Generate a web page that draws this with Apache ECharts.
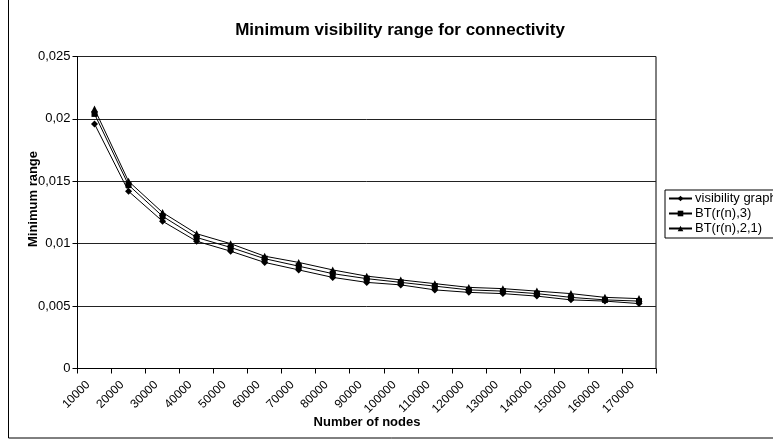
<!DOCTYPE html>
<html>
<head>
<meta charset="utf-8">
<script src="https://cdn.jsdelivr.net/npm/echarts@6/dist/echarts.min.js"></script>
<style>
  html, body { margin: 0; padding: 0; background: #fff; }
  #chart { width: 773px; height: 442px; }
</style>
</head>
<body>
<div id="chart"></div>
<script>
// Number of nodes (category axis)
const nodeCounts = ['10000', '20000', '30000', '40000', '50000', '60000', '70000', '80000', '90000',
  '100000', '110000', '120000', '130000', '140000', '150000', '160000', '170000'];

// Minimum range needed for connectivity, per model
const visibilityGraph = [0.0196, 0.0142, 0.0118, 0.0102, 0.0094, 0.0085, 0.0079, 0.0073, 0.0069,
  0.0067, 0.0063, 0.0061, 0.0060, 0.0058, 0.0055, 0.0054, 0.0052];
const bt3 = [0.0204, 0.0147, 0.0122, 0.0105, 0.0097, 0.0088, 0.0082, 0.0076, 0.0072,
  0.0069, 0.0066, 0.0063, 0.0062, 0.0060, 0.0057, 0.0055, 0.0054];
const bt21 = [0.0208, 0.0150, 0.0125, 0.0108, 0.0100, 0.0090, 0.0085, 0.0079, 0.0074,
  0.0071, 0.0068, 0.0065, 0.0064, 0.0062, 0.0060, 0.0057, 0.0056];

const seriesNames = ['visibility graph', 'BT(r(n),3)', 'BT(r(n),2,1)'];

const FONT = '"Liberation Sans", Arial, sans-serif';

const chart = echarts.init(document.getElementById('chart'), null, { renderer: 'canvas' });

function lineSeries(name, data, symbol, size) {
  return {
    name: name,
    type: 'line',
    data: data,
    symbol: symbol,
    symbolSize: size,
    showAllSymbol: true,
    animation: false,
    itemStyle: { color: '#000', borderWidth: 0 },
    lineStyle: { color: '#000', width: 1 },
    emphasis: { disabled: true }
  };
}

chart.setOption({
  animation: false,
  backgroundColor: '#fff',
  textStyle: { fontFamily: FONT, color: '#000' },
  grid: {
    left: 77.5, right: 117, top: 56.5, bottom: 73.5,
    show: true, borderColor: '#000', borderWidth: 1, backgroundColor: 'transparent'
  },
  legend: {
    orient: 'vertical',
    left: 665, top: 190,
    padding: [2, 6, 3, 3],
    itemGap: 2,
    itemWidth: 23, itemHeight: 7,
    backgroundColor: '#fff',
    borderColor: '#000', borderWidth: 1, borderRadius: 0,
    textStyle: { fontFamily: FONT, fontSize: 13, lineHeight: 13, color: '#000', padding: [0, 0, 0, -2] },
    data: seriesNames
  },
  xAxis: {
    type: 'category',
    data: nodeCounts,
    boundaryGap: true,
    axisLine: { show: true, lineStyle: { color: '#000', width: 1 } },
    axisTick: { show: true, inside: false, length: 5, alignWithLabel: false, lineStyle: { color: '#000' } },
    axisLabel: {
      rotate: 45, margin: 8, interval: 0, fontSize: 12, fontFamily: FONT, color: '#000',
      padding: [0, 9, 0, 0]
    },
    splitLine: { show: false }
  },
  yAxis: {
    type: 'value',
    min: 0, max: 0.025, interval: 0.005,
    axisLine: { show: true, lineStyle: { color: '#000', width: 1 } },
    axisTick: { show: true, inside: false, length: 5, lineStyle: { color: '#000' } },
    axisLabel: {
      margin: 7, fontSize: 13, fontFamily: FONT, color: '#000',
      formatter: function (v) {
        return String(parseFloat(v.toFixed(4))).replace('.', ',');
      }
    },
    splitLine: { show: true, lineStyle: { color: '#222', width: 1 } }
  },
  series: [
    lineSeries(seriesNames[0], visibilityGraph, 'diamond', 7),
    lineSeries(seriesNames[1], bt3, 'rect', 6),
    lineSeries(seriesNames[2], bt21, 'triangle', 7)
  ],
  graphic: [
    {
      type: 'rect', silent: true, z: 100,
      shape: { x: 8.5, y: -5, width: 800, height: 443 },
      style: { fill: null, stroke: '#000', lineWidth: 1 }
    },
    {
      type: 'text', x: 400, y: 30, silent: true,
      style: {
        text: 'Minimum visibility range for connectivity',
        font: 'bold 17px ' + FONT, fill: '#000', align: 'center', verticalAlign: 'middle'
      }
    },
    {
      type: 'text', x: 367, y: 422, silent: true,
      style: {
        text: 'Number of nodes',
        font: 'bold 13px ' + FONT, fill: '#000', align: 'center', verticalAlign: 'middle'
      }
    },
    {
      type: 'text', x: 33, y: 199, rotation: Math.PI / 2, silent: true,
      style: {
        text: 'Minimum range',
        font: 'bold 13px ' + FONT, fill: '#000', align: 'center', verticalAlign: 'middle'
      }
    }
  ]
});
</script>
</body>
</html>
